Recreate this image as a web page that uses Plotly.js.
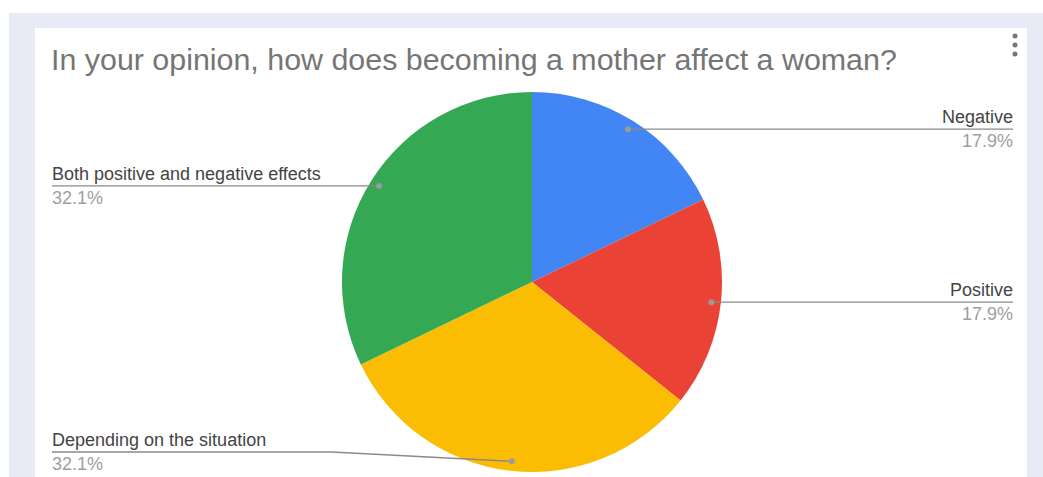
<!DOCTYPE html>
<html>
<head>
<meta charset="utf-8">
<script src="https://cdn.plot.ly/plotly-3.0.1.min.js"></script>
<style>
  html, body { margin: 0; padding: 0; background: #ffffff; }
  #chart { width: 1043px; height: 477px; }
</style>
</head>
<body>
<div id="chart"></div>
<script>
// Survey answers
const labels = ['Negative', 'Positive', 'Depending on the situation', 'Both positive and negative effects'];
const counts = [5, 5, 9, 9];
const colors = ['#4285f4', '#ea4335', '#fbbc04', '#34a853'];

const chartTitle = 'In your opinion, how does becoming a mother affect a woman?';

// Page geometry (pixels)
const W = 1043, H = 477;
const cx = 532, cy = 282, R = 190;
const leftEdge = 52, rightEdge = 1013;
const textInset = 2;          // annotation boxes carry a little padding
const lowestLine = 452;
const FONT = 'Arial, "Liberation Sans", sans-serif';

const px = x => x / W;
const py = y => 1 - y / H;

const total = counts.reduce((a, b) => a + b, 0);

const shapes = [];
const annotations = [];

// card background
shapes.push({ type: 'rect', xref: 'paper', yref: 'paper', layer: 'below',
  x0: px(9), x1: px(W), y0: py(H), y1: py(13), fillcolor: '#e8eaf6', line: { width: 0 } });
shapes.push({ type: 'rect', xref: 'paper', yref: 'paper', layer: 'below',
  x0: px(35), x1: px(1027), y0: py(H), y1: py(28), fillcolor: '#ffffff', line: { width: 0 } });

// menu dots
[36, 45, 54].forEach(y => {
  shapes.push({ type: 'circle', xref: 'paper', yref: 'paper', layer: 'above',
    x0: px(1012.5), x1: px(1017.5), y0: py(y + 2.5), y1: py(y - 2.5),
    fillcolor: '#757575', line: { width: 0 } });
});

// leader lines and labels, placed at each slice's mid angle
let cum = 0;
counts.forEach((v, i) => {
  const frac = v / total;
  const mid = (cum + frac / 2) * 2 * Math.PI; // clockwise from 12 o'clock
  cum += frac;
  const dx = cx + 0.95 * R * Math.sin(mid);
  const dy = cy - 0.95 * R * Math.cos(mid);
  const right = Math.sin(mid) > 0;
  const lineY = Math.min(dy, lowestLine);
  const edgeX = right ? rightEdge : leftEdge;
  const textX = right ? edgeX + textInset : edgeX - textInset;

  let path;
  if (Math.abs(lineY - dy) < 0.5) {
    path = `M ${px(edgeX)} ${py(lineY)} L ${px(dx)} ${py(dy)}`;
  } else {
    const bendX = right ? dx + 180 : dx - 180;
    path = `M ${px(edgeX)} ${py(lineY)} L ${px(bendX)} ${py(lineY)} L ${px(dx)} ${py(dy)}`;
  }
  shapes.push({ type: 'path', xref: 'paper', yref: 'paper', layer: 'above',
    path: path, line: { color: '#8a8a8a', width: 1.3 } });
  shapes.push({ type: 'circle', xref: 'paper', yref: 'paper', layer: 'above',
    x0: px(dx - 3), x1: px(dx + 3), y0: py(dy + 3), y1: py(dy - 3),
    fillcolor: '#9a9a9a', line: { width: 0 } });

  const pct = (v / total * 100).toFixed(1) + '%';
  annotations.push({ xref: 'paper', yref: 'paper', x: px(textX), y: py(lineY - 12),
    xanchor: right ? 'right' : 'left', yanchor: 'middle', showarrow: false,
    text: labels[i], font: { family: FONT, size: 18, color: '#444444' } });
  annotations.push({ xref: 'paper', yref: 'paper', x: px(textX), y: py(lineY + 12),
    xanchor: right ? 'right' : 'left', yanchor: 'middle', showarrow: false,
    text: pct, font: { family: FONT, size: 18, color: '#9e9e9e' } });
});

const trace = {
  type: 'pie',
  labels: labels,
  values: counts,
  sort: false,
  direction: 'clockwise',
  rotation: 0,
  textinfo: 'none',
  hoverinfo: 'label+percent',
  marker: { colors: colors, line: { width: 0 } },
  domain: { x: [px(cx - R), px(cx + R)], y: [py(cy + R), py(cy - R)] },
  showlegend: false
};

const layout = {
  width: W,
  height: H,
  margin: { l: 0, r: 0, t: 0, b: 0 },
  paper_bgcolor: '#ffffff',
  showlegend: false,
  title: {
    text: chartTitle,
    x: px(51), xanchor: 'left', xref: 'paper',
    y: py(59.5), yanchor: 'middle', yref: 'container',
    font: { family: FONT, size: 30.4, color: '#757575' }
  },
  shapes: shapes,
  annotations: annotations
};

Plotly.newPlot('chart', [trace], layout, { displayModeBar: false, staticPlot: true });
</script>
</body>
</html>
